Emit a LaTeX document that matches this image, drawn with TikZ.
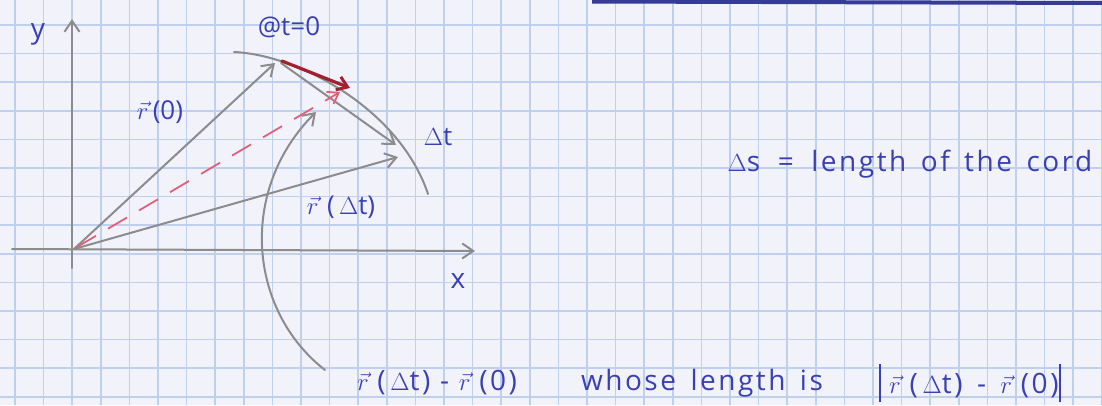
\documentclass[tikz,border=0pt]{standalone}
\usepackage{fontspec}
\setmainfont{Open Sans}
\usetikzlibrary{arrows.meta}
\definecolor{paperBg}{HTML}{F2F3FA}
\definecolor{paperGrid}{HTML}{BFD0EC}
\definecolor{inkBlue}{HTML}{3A40B4}
\definecolor{inkDeepBlue}{HTML}{353B98}
\definecolor{pencilGray}{HTML}{8C8C8E}
\definecolor{inkRed}{HTML}{A3202E}
\definecolor{inkPink}{HTML}{E0607A}
\tikzset{
  >={Straight Barb[length=11pt,width=15pt]},
  pencil/.style={draw=pencilGray, line width=2pt, line cap=round},
  pencilarrow/.style={pencil, ->},
  chordarrow/.style={draw=inkRed, line width=3.2pt, line cap=round,
    -{Straight Barb[length=10pt,width=14pt,line width=3pt]}},
  dasharrow/.style={draw=inkPink, line width=1.8pt, dash pattern=on 22pt off 14pt,
    -{Straight Barb[length=10pt,width=14pt]}},
  handtext/.style={text=inkBlue, font=\fontsize{26}{30}\selectfont, inner sep=0pt},
  widetext/.style={handtext, font=\fontsize{28}{30}\selectfont\addfontfeatures{LetterSpace=9}},
  axislabel/.style={handtext, font=\fontsize{28}{30}\selectfont}
}
\newcommand{\rvec}{$\vec{r}\,$}
\newcommand{\tallbar}{\raisebox{-9pt}{\rule{2pt}{38pt}}}
\begin{document}
\begin{tikzpicture}[x=1pt,y=-1pt]
\useasboundingbox (0,0) rectangle (1102,405);
% squared paper
\fill[paperBg] (0,0) rectangle (1102,405);
\foreach \k in {0,...,38} {
  \draw[paperGrid, line width=1.5pt] ({15+28.6*\k},0) -- ({15+28.6*\k},405);
}
\foreach \k in {0,...,13} {
  \draw[paperGrid, line width=1.5pt] (0,{25+28.6*\k}) -- (1102,{25+28.6*\k});
}
\draw[inkDeepBlue, line width=4pt] (592,1.5) -- (1102,3);

% axes
\coordinate (O) at (74,249);
\coordinate (ytop) at (72,19);
\coordinate (ybot) at (72,268);
\coordinate (xleft) at (12,249);
\coordinate (xright) at (475,251);
\draw[pencilarrow] (ybot) -- (ytop);
\draw[pencilarrow] (xleft) -- (xright);
\node[axislabel] (ylab) at (38,34) {y};
\node[axislabel] (xlab) at (458,281) {x};

% trajectory
\coordinate (arcstart) at (234,52);
\coordinate (arcend) at (428,194);
\draw[pencil] (arcstart) .. controls (300,55) and (400,110) .. (arcend);

% position vectors
\coordinate (tip0) at (275,63);
\coordinate (tip1) at (398,157);
\draw[pencilarrow] (O) -- (tip0);
\draw[pencilarrow] (O) -- (tip1);
\coordinate (chordstart) at (281,63);
\coordinate (chordend) at (396,145);
\draw[pencilarrow] (chordstart) -- (chordend);

% displacement
\coordinate (redstart) at (282,61);
\coordinate (redend) at (350,88);
\draw[chordarrow] (redstart) -- (redend);
\coordinate (dashstart) at (77,247);
\coordinate (dashend) at (340,92);
\draw[dasharrow] (dashstart) -- (dashend);

% pointer from the caption
\coordinate (pointstart) at (325,370);
\coordinate (pointend) at (316,112);
\draw[pencilarrow] (pointstart) .. controls (248,310) and (238,190) .. (pointend);

% labels
\node[handtext] (tzero) at (289,27) {@t=0};
\node[handtext] (rzero) at (160,112) {\rvec(0)};
\node[handtext] (dt) at (438,137) {$\Delta$t};
\node[handtext] (rdt) at (341,207) {\rvec\,(\,$\Delta$t)};
\node[widetext] (ds) at (910,164) {$\Delta$s \;=\; length\, of\, the\, cord};
\node[widetext] (diff) at (437,383) {\rvec\,(\,$\Delta$t) - \rvec\,(0)};
\node[widetext] (whose) at (702,383) {whose\, length\, is};
\node[widetext] (norm) at (970,383) {\tallbar\;\rvec\,(\,$\Delta$t) \,-\, \rvec\,(0)\tallbar};
\end{tikzpicture}
\end{document}
